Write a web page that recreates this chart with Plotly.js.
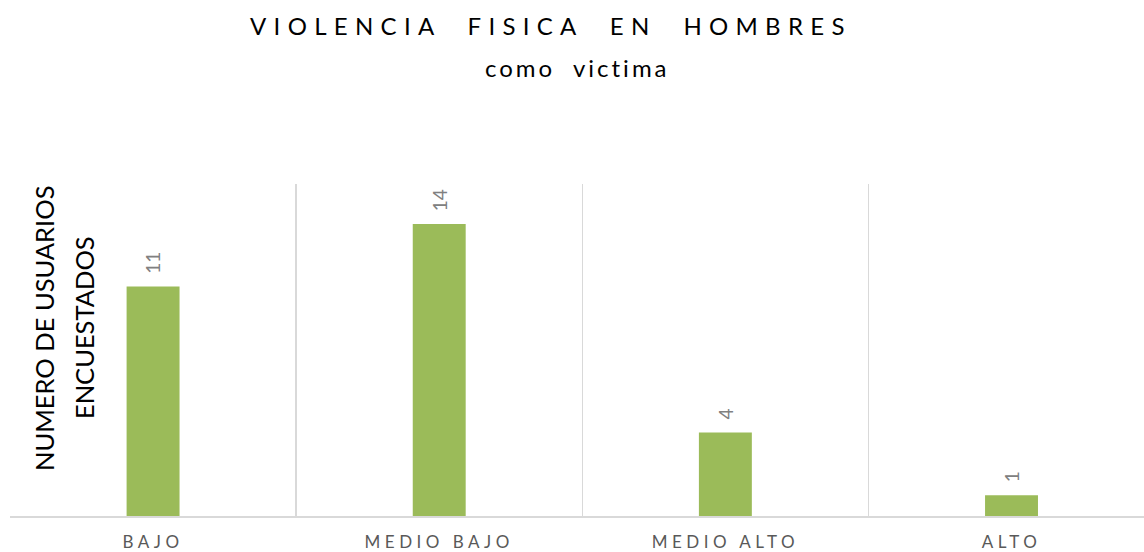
<!DOCTYPE html>
<html>
<head>
<meta charset="utf-8">
<script src="https://cdn.plot.ly/plotly-3.0.1.min.js"></script>
<style>
  html, body { margin: 0; padding: 0; background: #fff; }
  #chart { width: 1144px; height: 552px; }
  .xtick text { letter-spacing: 4.5px; }
</style>
</head>
<body>
<div id="chart"></div>
<script>
const categories = ["BAJO", "MEDIO BAJO", "MEDIO ALTO", "ALTO"];
const values = [11, 14, 4, 1];
const titleLine1 = "VIOLENCIA&nbsp;&nbsp;FISICA&nbsp;&nbsp;EN&nbsp;&nbsp;HOMBRES";
const titleLine2 = "como&nbsp;&nbsp;victima";
const yTitleLines = ["NUMERO DE USUARIOS", "ENCUESTADOS"];

const FONT = "Lato, 'Open Sans', sans-serif";

const trace = {
  type: "bar",
  x: categories,
  y: values,
  width: 0.185,
  marker: { color: "#9BBB59" },
  hoverinfo: "x+y"
};

const labelAnnotations = categories.map((c, i) => ({
  x: c, y: values[i], xref: "x", yref: "y",
  text: String(values[i]),
  textangle: -90,
  showarrow: false,
  yanchor: "bottom",
  yshift: 11,
  font: { family: FONT, size: 19, color: "#808080" }
}));

const yTitleShifts = [34, 74];
const yTitleAnnotations = yTitleLines.map((t, i) => ({
  xref: "paper", yref: "paper", x: 0, y: 0.566,
  xanchor: "center", yanchor: "middle",
  xshift: yTitleShifts[i],
  text: t,
  textangle: -90,
  showarrow: false,
  font: { family: FONT, size: 25.5, color: "#000000" }
}));

const subtitleAnnotation = {
  xref: "paper", yref: "paper", x: 0.5, y: 1.35,
  xanchor: "center", yanchor: "middle",
  text: '<span style="letter-spacing:3px">' + titleLine2 + '</span>',
  showarrow: false,
  font: { family: FONT, size: 24, color: "#000000" }
};

const layout = {
  width: 1144, height: 552,
  margin: { l: 10, r: 0, t: 184, b: 36 },
  paper_bgcolor: "#ffffff",
  plot_bgcolor: "#ffffff",
  showlegend: false,
  title: {
    text: '<span style="letter-spacing:7.3px">' + titleLine1 + '</span>',
    x: 0.477, xanchor: "center", xref: "paper",
    y: 0.951, yanchor: "middle", yref: "container",
    font: { family: FONT, size: 24, color: "#000000" }
  },
  xaxis: {
    type: "category",
    range: [-0.5, 3.463],
    tickson: "boundaries",
    showgrid: true,
    gridcolor: "#d9d9d9",
    gridwidth: 1.3,
    ticks: "",
    showline: true,
    linecolor: "#d9d9d9",
    linewidth: 1.5,
    ticklabelstandoff: 10,
    tickfont: { family: FONT, size: 17, color: "#595959" },
    fixedrange: true
  },
  yaxis: {
    range: [0, 15.92],
    showgrid: false,
    zeroline: false,
    showticklabels: false,
    ticks: "",
    showline: false,
    fixedrange: true
  },
  annotations: labelAnnotations.concat(yTitleAnnotations, [subtitleAnnotation])
};

Plotly.newPlot("chart", [trace], layout, { displayModeBar: false, staticPlot: true });
</script>
</body>
</html>
